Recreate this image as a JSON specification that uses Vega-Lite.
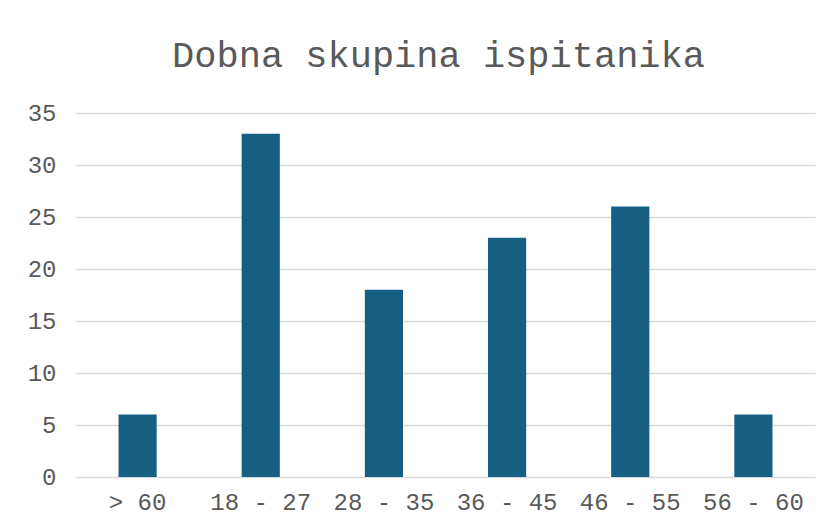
{
  "$schema": "https://vega.github.io/schema/vega-lite/v6.json",
  "width": 739,
  "height": 364,
  "autosize": {"type": "none"},
  "padding": {"left": 76, "top": 113, "right": 16, "bottom": 50},
  "background": "white",
  "title": {
    "text": "Dobna skupina ispitanika",
    "font": "Liberation Mono",
    "fontSize": 37,
    "fontWeight": "normal",
    "color": "#595959",
    "anchor": "middle",
    "dx": -7,
    "offset": 26
  },
  "data": {
    "values": [
      {"group": "> 60", "count": 6},
      {"group": "18 - 27", "count": 33},
      {"group": "28 - 35", "count": 18},
      {"group": "36 - 45", "count": 23},
      {"group": "46 - 55", "count": 26},
      {"group": "56 - 60", "count": 6}
    ]
  },
  "mark": {"type": "bar", "color": "#156082"},
  "encoding": {
    "x": {
      "field": "group",
      "type": "nominal",
      "sort": null,
      "title": null,
      "scale": {"paddingInner": 0.69, "paddingOuter": 0.345},
      "axis": {
        "labelAngle": 0,
        "labelFont": "Liberation Mono",
        "labelFontSize": 24,
        "labelColor": "#595959",
        "labelPadding": 13,
        "ticks": false,
        "domain": false,
        "grid": false
      }
    },
    "y": {
      "field": "count",
      "type": "quantitative",
      "title": null,
      "scale": {"domain": [0, 35]},
      "axis": {
        "values": [0, 5, 10, 15, 20, 25, 30, 35],
        "labelFont": "Liberation Mono",
        "labelFontSize": 24,
        "labelColor": "#595959",
        "labelPadding": 20,
        "ticks": false,
        "domain": false,
        "grid": true,
        "gridColor": "#d9d9d9",
        "gridWidth": 1.5
      }
    }
  },
  "config": {"view": {"stroke": null}}
}
